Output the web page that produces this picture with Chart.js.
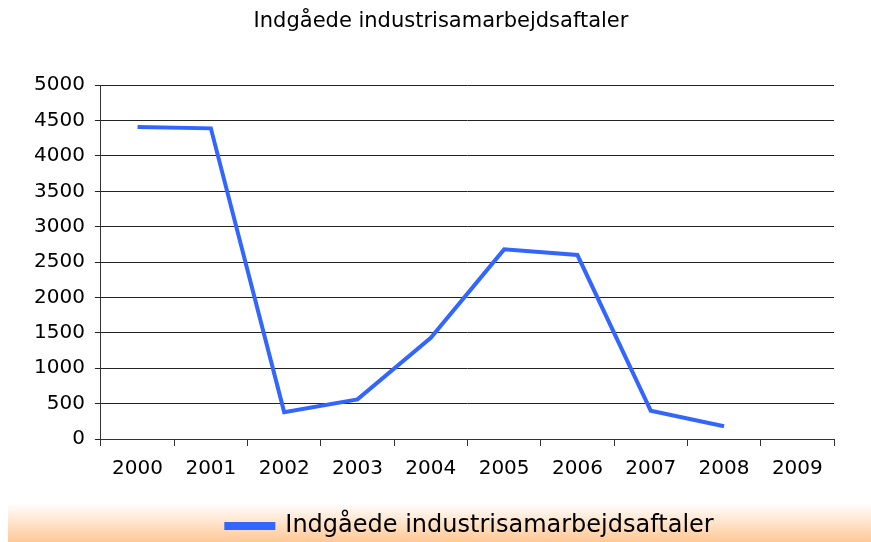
<!DOCTYPE html>
<html>
<head>
<meta charset="utf-8">
<script src="https://cdn.jsdelivr.net/npm/chart.js@4/dist/chart.umd.min.js"></script>
<style>
  html, body { margin: 0; padding: 0; background: #fff; }
  canvas { display: block; }
</style>
</head>
<body>
<canvas id="graf" width="871" height="542"></canvas>
<script>
// Aar og antal aftaler (2009 uden data)
const aar = ['2000', '2001', '2002', '2003', '2004', '2005', '2006', '2007', '2008', '2009'];
const aftaler = [4410, 4390, 380, 560, 1430, 2680, 2600, 400, 180, null];
const titel = 'Indgåede industrisamarbejdsaftaler';

// baggrund: orange gradient-baand bag legenden
const baand = {
    id: 'baand',
    beforeDraw(chart) {
        const ctx = chart.ctx;
        const g = ctx.createLinearGradient(0, 503, 0, 542);
        g.addColorStop(0, 'rgba(255,255,255,1)');
        g.addColorStop(1, 'rgb(255,200,150)');
        ctx.save();
        ctx.fillStyle = g;
        ctx.fillRect(8, 503, chart.width - 8, 542 - 503);
        ctx.restore();
    }
};

// titel og legende sidder lidt til hoejre for midten i originalen
const flyt = {
    id: 'flyt',
    afterLayout(chart) {
        chart.legend.left += 41;
        chart.legend.right += 41;
        chart.legend.top += 6;
        chart.legend.bottom += 6;
        chart.titleBlock.left += 12;
        chart.titleBlock.right += 12;
    }
};

Chart.defaults.font.family = '"DejaVu Sans", Verdana, sans-serif';
Chart.defaults.color = '#000';

new Chart(document.getElementById('graf'), {
    type: 'line',
    data: {
        labels: aar,
        datasets: [{
            label: titel,
            data: aftaler,
            borderColor: '#3366ff',
            backgroundColor: '#3366ff',
            borderWidth: 4,
            pointRadius: 0,
            tension: 0,
            spanGaps: false
        }]
    },
    options: {
        responsive: false,
        animation: false,
        layout: { padding: { left: 24, right: 37, top: 5, bottom: 0 } },
        plugins: {
            title: {
                display: true,
                text: titel,
                font: { size: 21, weight: 'normal' },
                padding: { top: 4, bottom: 51 }
            },
            legend: {
                position: 'bottom',
                labels: {
                    boxWidth: 47,
                    boxHeight: 4,
                    padding: 8,
                    font: { size: 24 }
                }
            },
            tooltip: { enabled: false }
        },
        scales: {
            x: {
                offset: true,
                grid: {
                    offset: true,
                    drawOnChartArea: false,
                    drawTicks: true,
                    tickLength: 7,
                    color: '#333'
                },
                border: { color: '#333' },
                ticks: { font: { size: 20 }, padding: 11, maxRotation: 0 },
                afterFit(axis) { axis.height += 8; }
            },
            y: {
                min: 0,
                max: 5000,
                ticks: {
                    stepSize: 500,
                    font: { size: 20 },
                    padding: 10,
                    callback: v => String(v)
                },
                grid: { color: '#222', tickLength: 6 },
                border: { color: '#333' }
            }
        }
    },
    plugins: [baand, flyt]
});
</script>
</body>
</html>
